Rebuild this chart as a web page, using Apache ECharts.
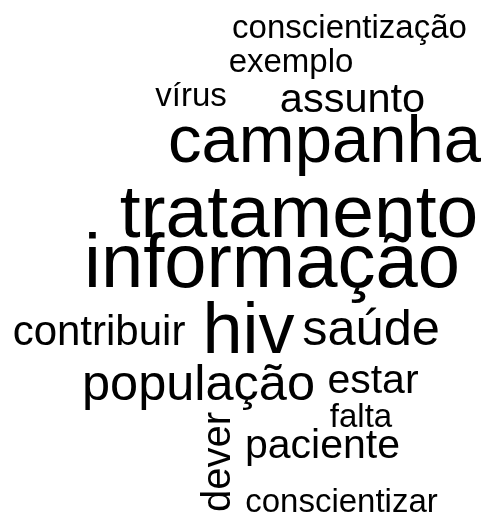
<!DOCTYPE html>
<html>
<head>
<meta charset="utf-8">
<script src="https://cdn.jsdelivr.net/npm/echarts@6/dist/echarts.min.js"></script>
<style>html,body{margin:0;padding:0;background:#fff}#c{width:491px;height:517px}</style>
</head>
<body>
<div id="c"></div>
<script>
// Word cloud: words, their weights (drawn as font size), layout coordinates and rotation
var words = ["conscientização","exemplo","vírus","assunto","campanha","tratamento","informação","hiv","contribuir","saúde","população","estar","falta","paciente","dever","conscientizar"];
var weights = [33, 33, 33, 41.5, 67, 75, 76, 72, 42, 50.5, 50.5, 41, 33, 41, 40, 33];
var layoutX = [349.5, 291, 191, 352.5, 324.5, 299, 272, 248.5, 99, 371, 198.5, 373, 361, 322.5, 219, 341.5];
var layoutY = [28.8, 62.8, 96.8, 100.4, 143.2, 216, 265.7, 333, 333.2, 330.9, 385.9, 381.5, 417.8, 446.5, 462, 502.8];
var rotations = [0,0,0,0,0,0,0,0,0,0,0,0,0,0,90,0];

var data = words.map(function(w, i){
  return {
    name: w,
    value: [layoutX[i], layoutY[i]],
    label: { fontSize: weights[i], rotate: rotations[i] }
  };
});

var chart = echarts.init(document.getElementById('c'), null, {renderer:'canvas'});
chart.setOption({
  animation: false,
  backgroundColor: '#ffffff',
  grid: {left:0, right:0, top:0, bottom:0},
  xAxis: {type:'value', min:0, max:491, show:false},
  yAxis: {type:'value', min:0, max:517, inverse:true, show:false},
  series: [{
    type: 'scatter',
    symbolSize: 0,
    silent: true,
    itemStyle: {opacity: 1},
    data: data,
    label: {
      show: true,
      position: 'inside',
      formatter: '{b}',
      color: '#000000',
      opacity: 1,
      fontFamily: '"Liberation Sans", Arial, sans-serif',
      fontWeight: 'normal',
      align: 'center',
      verticalAlign: 'middle'
    }
  }]
});
</script>
</body>
</html>
